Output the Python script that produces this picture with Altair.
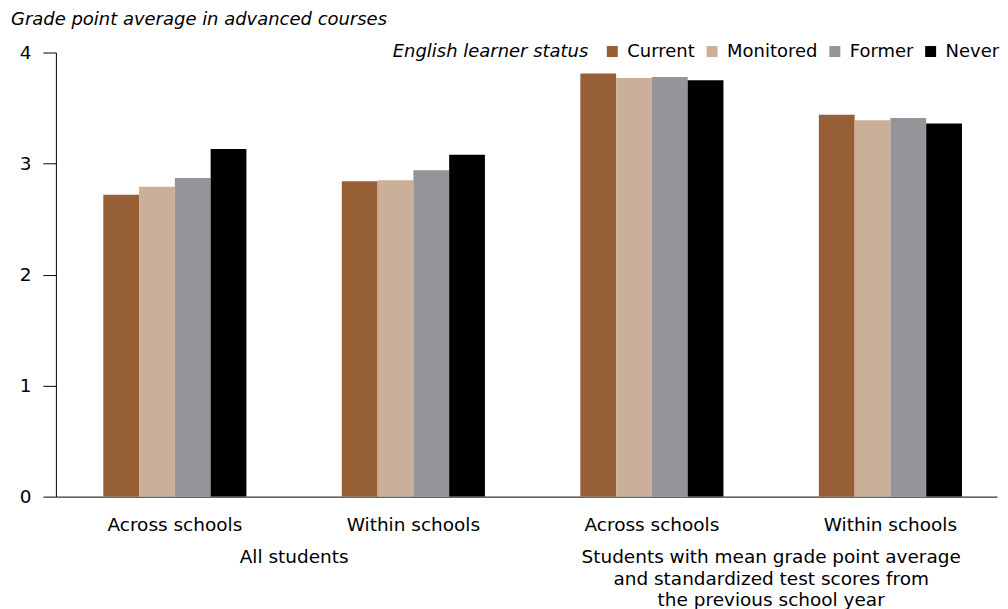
import altair as alt
import pandas as pd

group_labels = ["All students",
                "Students with mean grade point average|and standardized test scores from|the previous school year"]
comparisons = ["Across schools", "Within schools"]
statuses = ["Current", "Monitored", "Former", "Never"]
colors = ["#975F35", "#CBAF99", "#949599", "#000000"]

current = [2.72, 2.84, 3.81, 3.44]
monitored = [2.79, 2.85, 3.77, 3.39]
former = [2.87, 2.94, 3.78, 3.41]
never = [3.13, 3.08, 3.75, 3.36]

categories = [f"{g}#{c}" for g in ("A", "B") for c in comparisons]

rows = []
for s, vals in zip(statuses, [current, monitored, former, never]):
    for cat, v in zip(categories, vals):
        rows.append({"cat": cat, "status": s, "value": v})
df = pd.DataFrame(rows)

group_df = pd.DataFrame({"cat": [categories[0], categories[2]], "label": group_labels})

FONT = "DejaVu Sans"
W, H = 943, 445

xscale = alt.Scale(domain=categories, paddingInner=0.4, paddingOuter=0.1728, align=0.575)

bars = alt.Chart(df).mark_bar().encode(
    x=alt.X("cat:N", scale=xscale, title=None,
            axis=alt.Axis(ticks=False, labelAngle=0, labelFontSize=18.5, labelPadding=19,
                          labelColor="#000", domainColor="#000", labelFont=FONT,
                          labelExpr="split(datum.label, '#')[1]")),
    xOffset=alt.XOffset("status:N", sort=statuses, scale=alt.Scale(paddingInner=0, paddingOuter=0)),
    y=alt.Y("value:Q", scale=alt.Scale(domain=[0, 4]),
            title="Grade point average in advanced courses",
            axis=alt.Axis(values=[0, 1, 2, 3, 4], grid=False, tickSize=13, tickColor="#000",
                          domainColor="#000", labelFontSize=18.5, labelPadding=12, labelColor="#000",
                          labelFont=FONT,
                          titleAngle=0, titleX=-45.5, titleY=-28, titleAlign="left",
                          titleBaseline="alphabetic", titleFontStyle="italic",
                          titleFontWeight="normal", titleFontSize=18, titleColor="#000",
                          titleFont=FONT)),
    color=alt.Color("status:N", sort=statuses,
                    scale=alt.Scale(domain=statuses, range=colors),
                    legend=alt.Legend(title="English learner status", orient="none",
                                      legendX=337.5, legendY=-10, direction="horizontal",
                                      titleOrient="left", titleFontStyle="italic",
                                      titleFontWeight="normal", titleFontSize=18,
                                      titleFont=FONT, titleColor="#000", titlePadding=14,
                                      titleLimit=400, labelLimit=200,
                                      labelFont=FONT, labelFontSize=18, labelColor="#000",
                                      symbolType="square", symbolSize=121, symbolStrokeWidth=0,
                                      labelOffset=6, columnPadding=8, symbolOpacity=1)),
)

group_text = alt.Chart(group_df).mark_text(
    font=FONT, fontSize=18.5, color="#000", baseline="top", align="center",
    lineBreak="|", lineHeight=21.5, dx=119.5,
).encode(
    x=alt.X("cat:N", scale=xscale),
    y=alt.value(H + 52),
    text="label:N",
)

chart = alt.layer(bars, group_text).properties(
    width=W, height=H,
    padding={"left": 2, "top": 2, "right": 0, "bottom": 0},
).configure_view(stroke=None)

chart.save("out.html", embed_options={"renderer": "svg", "actions": False})
